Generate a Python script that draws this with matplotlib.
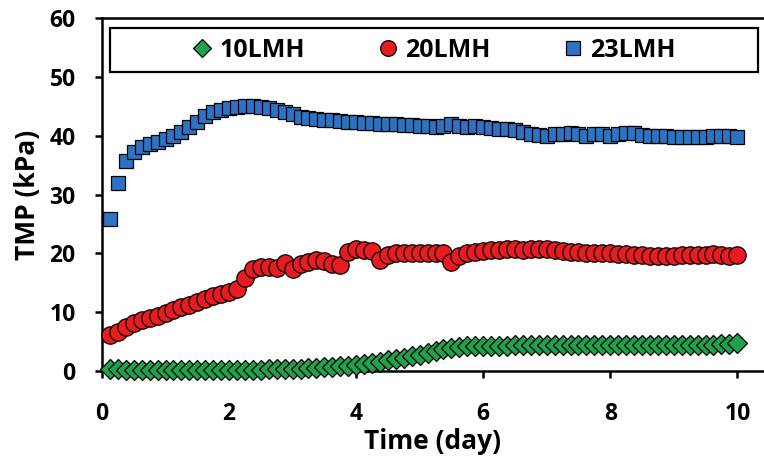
import numpy as np
import matplotlib
matplotlib.use('Agg')
import matplotlib.pyplot as plt
from matplotlib.patches import Rectangle

plt.rcParams['font.family'] = ['Open Sans', 'DejaVu Sans']
plt.rcParams['font.weight'] = 'bold'

# sampling every 3 h over 10 days
time_day = np.arange(1, 81) * 0.125

tmp_10lmh = [0.3, 0.3, 0.2, 0.2, 0.2, 0.2, 0.2, 0.2, 0.2, 0.2, 0.2, 0.2, 0.2, 0.2, 0.2, 0.2,
             0.2, 0.2, 0.2, 0.2, 0.3, 0.3, 0.3, 0.4,
             0.4, 0.5, 0.5, 0.6, 0.7, 0.8, 0.9, 1.0,
             1.2, 1.4, 1.6, 1.8, 2.0, 2.2, 2.5, 2.8,
             3.1, 3.4, 3.7, 3.9, 4.1, 4.2, 4.3, 4.3,
             4.3, 4.3, 4.3, 4.4, 4.4, 4.4, 4.4, 4.4, 4.4, 4.4, 4.4, 4.4, 4.4, 4.4, 4.4, 4.4,
             4.4, 4.4, 4.4, 4.4, 4.5, 4.5, 4.5, 4.5, 4.5, 4.5, 4.5, 4.5, 4.5, 4.6, 4.6, 4.7]

tmp_20lmh = [6.1, 6.7, 7.5, 8.1, 8.6, 9.0, 9.3, 9.8, 10.3, 10.8, 11.2, 11.8, 12.3, 12.7, 13.1, 13.4,
             14.0, 15.8, 17.3, 17.6, 17.7, 17.5, 18.3, 17.3, 18.2, 18.6, 18.9, 18.7, 18.2, 18.0, 20.2, 20.8,
             20.6, 20.4, 18.8, 19.8, 20.1, 20.1, 20.0, 20.0, 20.0, 20.0, 20.0, 18.6, 19.6, 20.1, 20.3, 20.4,
             20.5, 20.6, 20.7, 20.7, 20.6, 20.7, 20.8, 20.7, 20.5, 20.4, 20.3, 20.2, 20.1, 20.1, 20.0, 20.0,
             19.9, 19.9, 19.8, 19.7, 19.6, 19.5, 19.5, 19.6, 19.7, 19.7, 19.8, 19.8, 19.9, 19.7, 19.6, 19.8]

tmp_23lmh = [25.8, 32.0, 35.7, 37.2, 38.0, 38.5, 38.9, 39.4, 39.9, 40.6, 41.4, 42.3, 43.3, 44.0, 44.4, 44.7,
             44.9, 45.0, 45.0, 44.9, 44.7, 44.4, 44.0, 43.6, 43.2, 43.0, 42.9, 42.7, 42.6, 42.5, 42.4, 42.3,
             42.2, 42.1, 42.0, 42.0, 41.9, 41.8, 41.8, 41.7, 41.6, 41.5, 41.7, 41.9, 41.7, 41.5, 41.6, 41.5,
             41.3, 41.2, 41.1, 40.9, 40.6, 40.3, 40.1, 40.0, 40.2, 40.3, 40.4, 40.2, 39.9, 40.3, 40.2, 40.0,
             40.2, 40.5, 40.4, 40.1, 40.0, 40.0, 39.9, 39.8, 39.7, 39.8, 39.7, 39.8, 39.9, 40.0, 40.0, 39.8]

fig = plt.figure(figsize=(7.64, 4.59), dpi=100)
ax = fig.add_axes([0.1335, 0.1917, 0.8665, 0.7691])

ax.plot(time_day, tmp_10lmh, ls='none', marker='D', ms=10, mfc='#22a04b', mec='black', mew=0.9,
        label='10LMH', clip_on=False, zorder=3)
ax.plot(time_day, tmp_20lmh, ls='none', marker='o', ms=12.5, mfc='#e81b1f', mec='black', mew=0.9,
        label='20LMH', clip_on=False, zorder=3)
ax.plot(time_day, tmp_23lmh, ls='none', marker='s', ms=10.5, mfc='#2c73c4', mec='black', mew=0.9,
        label='23LMH', clip_on=False, zorder=3)

ax.set_xlim(0, 10.42)
ax.set_ylim(0, 60)
ax.set_xticks(range(0, 11, 2))
ax.set_yticks(range(0, 61, 10))
ax.spines['right'].set_visible(False)
for side in ['left', 'bottom', 'top']:
    ax.spines[side].set_linewidth(1.8)
ax.tick_params(axis='both', direction='out', length=5, width=1.8, labelsize=16.5)
ax.tick_params(axis='x', pad=17, top=False)
ax.tick_params(axis='y', pad=14)

ax.set_xlabel('Time (day)', fontsize=19, fontweight='bold', labelpad=2)
ax.set_ylabel('TMP (kPa)', fontsize=19, fontweight='bold', labelpad=6)

ax.add_patch(Rectangle((0.012, 0.847), 0.979, 0.125, transform=ax.transAxes,
                       fill=False, edgecolor='black', lw=1.6, zorder=4))
ax.legend(loc='center', bbox_to_anchor=(0.5015, 0.909), ncol=3, frameon=False,
          prop={'size': 18, 'weight': 'bold'}, handlelength=0.8, handletextpad=0.3,
          columnspacing=2.9, markerscale=0.9)

fig.savefig('out.png', dpi=100)
